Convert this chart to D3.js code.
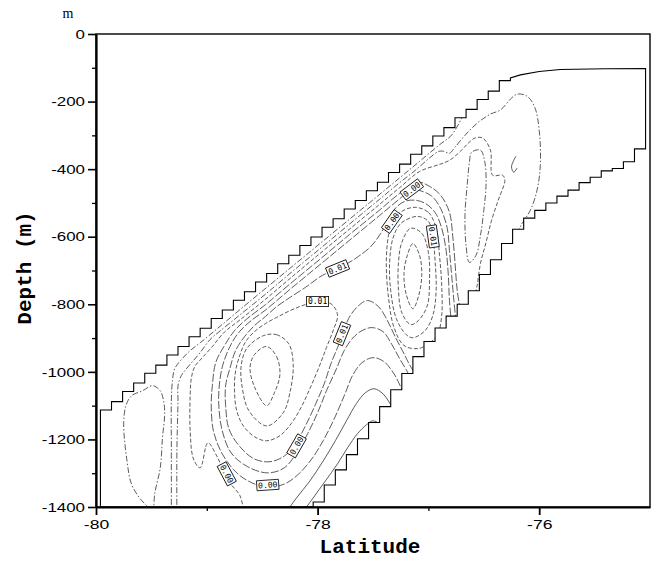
<!DOCTYPE html>
<html><head><meta charset="utf-8">
<script src="https://cdn.jsdelivr.net/npm/d3@7"></script>
<style>body{margin:0;background:#fff}</style>
</head><body>
<svg id="chart" width="660" height="562"></svg>
<script>
// ---------------- data ----------------
const yTicks = [-1400,-1200,-1000,-800,-600,-400,-200,0];
const yMinorTicks = [-1300,-1100,-900,-700,-500,-300,-100];
const xTicks = [-80,-78,-76];
const xMinorTicks = [-79,-77];

// ice-shelf base: model columns (left edge latitude) and base depth
const iceBaseLat = [-79.96,-79.86,-79.76,-79.66,-79.56,-79.46,-79.36,-79.26,-79.16,-79.06,-78.96,-78.86,-78.76,-78.66,-78.56,-78.46,-78.36,-78.26,-78.16,-78.06,-77.96,-77.86,-77.76,-77.66,-77.56,-77.46,-77.36,-77.26,-77.16,-77.06,-76.96,-76.86,-76.76,-76.66,-76.56,-76.46,-76.36];
const iceBaseDepth = [-1113,-1088,-1058,-1033,-1004,-980,-950,-925,-896,-871,-842,-817,-788,-763,-734,-709,-680,-655,-626,-601,-572,-547,-518,-493,-464,-439,-410,-385,-356,-331,-302,-277,-248,-223,-194,-169,-138];
const iceFrontTop = [[-76.26,-130],[-76.17,-121],[-76.0,-111],[-75.81,-105],[-75.4,-103],[-75.04,-102]];
// sea bed: model columns (left edge latitude) and depth
const seabedLat = [-78.04,-77.94,-77.84,-77.74,-77.64,-77.54,-77.44,-77.34,-77.24,-77.14,-77.04,-76.94,-76.84,-76.74,-76.64,-76.54,-76.44,-76.34,-76.24,-76.14,-76.04,-75.94,-75.84,-75.74,-75.64,-75.54,-75.44,-75.34,-75.24,-75.14];
const seabedDepth = [-1385,-1335,-1290,-1245,-1198,-1150,-1103,-1053,-1005,-955,-910,-870,-835,-800,-760,-712,-668,-620,-578,-545,-522,-500,-480,-462,-440,-424,-405,-398,-378,-340];

// contour lines: [latitude, depth]
const cLeftLobe = [[-79.49,-1412],[-79.60,-1376],[-79.68,-1332],[-79.72,-1264],[-79.75,-1154],[-79.73,-1100],[-79.68,-1071],[-79.58,-1056],[-79.49,-1041],[-79.42,-1056],[-79.39,-1086],[-79.38,-1124],[-79.40,-1195],[-79.42,-1284],[-79.47,-1361],[-79.48,-1415]];
const cOuter1 = [[-79.32,-1427],[-79.32,-1234],[-79.32,-1086],[-79.31,-1026],[-79.29,-991],[-79.23,-964],[-79.15,-937],[-79.06,-914],[-78.88,-865],[-78.61,-791],[-78.34,-718],[-78.07,-645],[-77.80,-572],[-77.53,-499],[-77.26,-426],[-77.08,-377],[-76.90,-328],[-76.79,-299],[-76.68,-236]];
const cOuter2 = [[-79.27,-1427],[-79.27,-1234],[-79.26,-1086],[-79.26,-1041],[-79.23,-1011],[-79.20,-997],[-79.13,-970],[-79.06,-943],[-78.97,-904],[-78.88,-879],[-78.70,-831],[-78.47,-770],[-78.25,-709],[-77.98,-636],[-77.71,-562],[-77.44,-489],[-77.26,-440],[-77.12,-404],[-76.99,-367],[-76.91,-348],[-76.86,-347],[-76.81,-353],[-76.76,-335],[-76.67,-300],[-76.56,-264],[-76.44,-237],[-76.35,-225],[-76.26,-193],[-76.20,-178],[-76.11,-184],[-76.04,-217],[-76.00,-285],[-75.99,-389],[-76.02,-463],[-76.08,-522],[-76.16,-564],[-76.21,-599]];
const cOuter3 = [[-78.66,-1427],[-78.70,-1367],[-78.79,-1329],[-78.86,-1284],[-78.91,-1249],[-78.99,-1210],[-79.06,-1284],[-79.12,-1258],[-79.15,-1175],[-79.15,-1071],[-79.14,-1020],[-79.11,-985],[-79.04,-958],[-78.95,-925],[-78.84,-882],[-78.70,-846],[-78.47,-785],[-78.25,-724],[-77.98,-650],[-77.71,-577],[-77.44,-504],[-77.26,-455],[-77.08,-407],[-76.90,-386],[-76.81,-374],[-76.71,-347],[-76.64,-323],[-76.58,-308],[-76.51,-308],[-76.44,-344],[-76.42,-418],[-76.33,-418],[-76.31,-433],[-76.37,-492],[-76.43,-552],[-76.48,-617],[-76.53,-679],[-76.56,-744],[-76.59,-789]];
const cBoth3 = [[-76.71,-819],[-76.74,-759],[-76.76,-676],[-76.78,-599],[-76.81,-528],[-76.89,-477],[-76.99,-451],[-77.09,-439],[-77.26,-472],[-77.44,-521],[-77.71,-593],[-77.98,-667],[-78.25,-740],[-78.47,-801],[-78.63,-841],[-78.75,-878],[-78.84,-922],[-78.92,-973],[-78.95,-1041],[-78.96,-1100],[-78.94,-1175],[-78.86,-1243],[-78.73,-1299],[-78.59,-1329],[-78.45,-1341],[-78.30,-1332],[-78.18,-1305],[-78.06,-1261],[-77.95,-1204],[-77.85,-1139],[-77.76,-1071],[-77.68,-1008],[-77.60,-973],[-77.50,-958],[-77.40,-970],[-77.31,-1006],[-77.25,-1044],[-77.19,-1080]];
const cBoth2 = [[-76.75,-854],[-76.77,-789],[-76.79,-715],[-76.81,-641],[-76.83,-575],[-76.89,-516],[-76.97,-480],[-77.08,-463],[-77.15,-459],[-77.26,-488],[-77.44,-537],[-77.71,-610],[-77.98,-683],[-78.25,-756],[-78.47,-817],[-78.61,-851],[-78.72,-887],[-78.80,-931],[-78.86,-985],[-78.89,-1050],[-78.89,-1109],[-78.86,-1175],[-78.78,-1240],[-78.63,-1281],[-78.45,-1299],[-78.30,-1284],[-78.19,-1240],[-78.09,-1183],[-78.00,-1121],[-77.92,-1056],[-77.83,-991],[-77.76,-937],[-77.68,-899],[-77.60,-878],[-77.51,-869],[-77.41,-881],[-77.33,-919],[-77.26,-961],[-77.19,-1000],[-77.14,-1038]];
const cBoth1 = [[-76.79,-863],[-76.81,-789],[-76.82,-715],[-76.84,-641],[-76.88,-575],[-76.94,-528],[-77.03,-501],[-77.12,-492],[-77.21,-495],[-77.29,-513],[-77.36,-549],[-77.43,-590],[-77.52,-629],[-77.63,-658],[-77.73,-679],[-77.82,-694],[-77.96,-715],[-78.11,-750],[-78.25,-780],[-78.37,-807],[-78.47,-836],[-78.57,-863],[-78.66,-896],[-78.74,-937],[-78.79,-988],[-78.83,-1041],[-78.83,-1100],[-78.80,-1169],[-78.70,-1222],[-78.57,-1258],[-78.43,-1266],[-78.30,-1249],[-78.20,-1213],[-78.11,-1160],[-78.02,-1097],[-77.94,-1035],[-77.88,-976],[-77.82,-928],[-77.77,-887],[-77.72,-842],[-77.64,-807],[-77.55,-789],[-77.45,-807],[-77.37,-848],[-77.30,-896],[-77.23,-940],[-77.17,-979],[-77.11,-1011]];
const cLeft3 = [[-78.00,-795],[-78.11,-801],[-78.25,-819],[-78.37,-839],[-78.47,-857],[-78.57,-881],[-78.65,-911],[-78.70,-949],[-78.74,-997],[-78.75,-1056],[-78.73,-1115],[-78.67,-1160],[-78.57,-1192],[-78.46,-1204],[-78.34,-1189],[-78.24,-1154],[-78.15,-1106],[-78.07,-1050],[-77.99,-988],[-77.92,-928],[-77.86,-878],[-77.82,-833],[-77.86,-804],[-77.93,-792]];
const cLeft2 = [[-78.49,-893],[-78.37,-890],[-78.26,-917],[-78.22,-979],[-78.25,-1062],[-78.31,-1121],[-78.46,-1160],[-78.62,-1115],[-78.68,-1047],[-78.69,-982],[-78.64,-931]];
const cLeft1 = [[-78.46,-925],[-78.37,-955],[-78.34,-1008],[-78.39,-1062],[-78.46,-1100],[-78.57,-1044],[-78.61,-988],[-78.57,-949]];
const cRight1 = [[-77.14,-620],[-77.08,-655],[-77.06,-715],[-77.09,-777],[-77.14,-813],[-77.20,-771],[-77.22,-706],[-77.19,-655]];
const cRight2 = [[-77.16,-575],[-77.06,-590],[-77.00,-647],[-76.99,-730],[-77.01,-804],[-77.09,-848],[-77.16,-860],[-77.24,-825],[-77.27,-759],[-77.27,-676],[-77.24,-617]];
const cRight3 = [[-77.10,-540],[-77.00,-555],[-76.96,-602],[-76.94,-670],[-76.93,-759],[-76.96,-833],[-77.03,-878],[-77.14,-899],[-77.20,-890],[-77.29,-842],[-77.34,-759],[-77.35,-676],[-77.32,-605],[-77.25,-561]];
const cRight4 = [[-77.12,-513],[-77.00,-528],[-76.93,-575],[-76.90,-655],[-76.88,-744],[-76.88,-833],[-76.92,-893],[-76.99,-914],[-77.09,-931],[-77.22,-922],[-77.31,-869],[-77.36,-780],[-77.38,-676],[-77.36,-596],[-77.32,-555],[-77.24,-525]];
const cLower1 = [[-78.29,-1418],[-78.19,-1373],[-78.07,-1323],[-77.95,-1264],[-77.84,-1204],[-77.74,-1145],[-77.65,-1094],[-77.57,-1062],[-77.49,-1050],[-77.41,-1065],[-77.34,-1097],[-77.28,-1127]];
const cLower2 = [[-78.14,-1418],[-78.04,-1373],[-77.93,-1323],[-77.82,-1272],[-77.73,-1225],[-77.64,-1183],[-77.56,-1157],[-77.50,-1145],[-77.44,-1154],[-77.38,-1175]];
const cFrontLoop = [[-76.61,-350],[-76.53,-344],[-76.49,-380],[-76.48,-448],[-76.50,-522],[-76.53,-596],[-76.57,-655],[-76.63,-676],[-76.66,-626],[-76.67,-537],[-76.65,-448],[-76.63,-380]];
const cFrontHook = [[-76.21,-362],[-76.23,-374],[-76.25,-394],[-76.23,-409],[-76.20,-397]];

// contour labels
const labelLat   = [-77.15,-77.33,-76.96,-77.82,-78.00,-77.78,-78.19,-78.45,-78.82];
const labelDepth = [-460,-555,-599,-694,-792,-887,-1219,-1335,-1302];
const labelText  = ["0.00","0.00","0.01","0.01","0.01","0.01","0.00","0.00","0.00"];

// ---------------- drawing ----------------
const labelAngle = [-37,-55,82,-22,0,-68,-60,-4,62];
const svg = d3.select("#chart");
const x = d3.scaleLinear().domain([-80,-75]).range([96,650]);
const y = d3.scaleLinear().domain([-1400,0]).range([507,34]);

// domain outline (staircase)
const poly = [[iceBaseLat[0], -1400]];
iceBaseLat.forEach((l,i)=>{ poly.push([l, iceBaseDepth[i]]); poly.push([l+0.1, iceBaseDepth[i]]); });
iceFrontTop.forEach(p=>poly.push(p));
for (let i = seabedLat.length-1; i >= 0; i--) {
  poly.push([seabedLat[i]+0.1, seabedDepth[i]]);
  poly.push([seabedLat[i], seabedDepth[i]]);
}
poly.push([seabedLat[0], -1400]);
const polyLine = d3.line().x(d=>x(d[0])).y(d=>y(d[1]));

svg.append("defs").append("clipPath").attr("id","dom")
  .append("path").attr("d", polyLine(poly) + "Z");

const dashed = "4,2", dashdot = "6,2,1.5,2", longdash = "8,2";
const contours = [
  {d:cLeftLobe, closed:false, dash:dashdot},
  {d:cOuter1, closed:false, dash:dashdot},
  {d:cOuter2, closed:false, dash:dashdot},
  {d:cOuter3, closed:false, dash:dashed},
  {d:cBoth3, closed:false, dash:longdash},
  {d:cBoth2, closed:false, dash:longdash},
  {d:cBoth1, closed:false, dash:longdash},
  {d:cLeft3, closed:true, dash:dashed},
  {d:cLeft2, closed:true, dash:dashed},
  {d:cLeft1, closed:true, dash:dashed},
  {d:cRight1, closed:true, dash:dashed},
  {d:cRight2, closed:true, dash:dashed},
  {d:cRight3, closed:true, dash:dashed},
  {d:cRight4, closed:true, dash:dashed},
  {d:cLower1, closed:false, dash:null},
  {d:cLower2, closed:false, dash:null},
  {d:cFrontLoop, closed:true, dash:dashdot},
  {d:cFrontHook, closed:false, dash:null}
];
const lineOpen = d3.line().x(d=>x(d[0])).y(d=>y(d[1])).curve(d3.curveCatmullRom.alpha(0.5));
const lineClosed = d3.line().x(d=>x(d[0])).y(d=>y(d[1])).curve(d3.curveCatmullRomClosed.alpha(0.5));
const gc = svg.append("g").attr("clip-path","url(#dom)");
contours.forEach(c=>{
  gc.append("path").attr("d", (c.closed?lineClosed:lineOpen)(c.d))
    .attr("fill","none").attr("stroke","#333").attr("stroke-width",0.8)
    .attr("stroke-dasharray", c.dash);
});

svg.append("path").attr("d", polyLine(poly)+"Z").attr("fill","none")
  .attr("stroke","#000").attr("stroke-width",1.1).attr("stroke-linejoin","miter");

// labels
const gl = svg.append("g");
labelText.forEach((t,i)=>{
  const g = gl.append("g").attr("transform",`translate(${x(labelLat[i])},${y(labelDepth[i])}) rotate(${labelAngle[i]})`);
  g.append("rect").attr("x",-11).attr("y",-5).attr("width",22).attr("height",10)
    .attr("fill","#fff").attr("stroke","#000").attr("stroke-width",0.8);
  g.append("text").attr("text-anchor","middle").attr("dy","0.35em")
    .attr("font-family","DejaVu Sans Mono").attr("font-size",8).attr("fill","#000").text(t);
});

// frame
svg.append("rect").attr("x",96).attr("y",34).attr("width",554).attr("height",473)
  .attr("fill","none").attr("stroke","#000").attr("stroke-width",1.4);

// axes
const stretch = sel => sel.each(function(){
  const len = this.getComputedTextLength();
  d3.select(this).attr("textLength", len*1.3).attr("lengthAdjust","spacingAndGlyphs");
});
const ya = svg.append("g").attr("transform","translate(96,0)")
  .call(d3.axisLeft(y).tickValues(yTicks).tickSize(8).tickSizeOuter(0).tickPadding(3).tickFormat(d=>String(d)));
ya.select(".domain").attr("stroke-width",2.2);
ya.selectAll(".tick line").attr("stroke-width",1.6);
ya.selectAll("text").attr("font-family","Liberation Sans, Arial").attr("font-size",13).attr("fill","#000").call(stretch);
const ym = svg.append("g").attr("transform","translate(96,0)")
  .call(d3.axisLeft(y).tickValues(yMinorTicks).tickSize(4).tickFormat(""));
ym.select(".domain").remove();
ym.selectAll(".tick line").attr("stroke-width",1.3);

const xa = svg.append("g").attr("transform","translate(0,507)")
  .call(d3.axisBottom(x).tickValues(xTicks).tickSize(8).tickSizeOuter(0).tickPadding(4).tickFormat(d=>String(d)));
xa.select(".domain").attr("stroke-width",2.2);
xa.selectAll(".tick line").attr("stroke-width",1.8);
xa.selectAll("text").attr("font-family","Liberation Sans, Arial").attr("font-size",13.5).attr("fill","#000").call(stretch);
const xm = svg.append("g").attr("transform","translate(0,507)")
  .call(d3.axisBottom(x).tickValues(xMinorTicks).tickSize(4).tickFormat(""));
xm.select(".domain").remove();
xm.selectAll(".tick line").attr("stroke-width",1.3);

// titles
svg.append("text").attr("transform","translate(31,268) rotate(-90)").attr("text-anchor","middle")
  .attr("font-family","Liberation Mono, Courier New, monospace").attr("font-weight","bold").attr("font-size",21)
  .attr("fill","#000").text("Depth (m)");
svg.append("text").attr("x",370).attr("y",553).attr("text-anchor","middle")
  .attr("font-family","Liberation Mono, Courier New, monospace").attr("font-weight","bold").attr("font-size",21)
  .attr("fill","#000").text("Latitude");
svg.append("text").attr("x",68).attr("y",18).attr("text-anchor","middle")
  .attr("font-family","Liberation Serif, Times New Roman, serif").attr("font-size",14)
  .attr("fill","#000").text("m");
</script>
</body></html>
